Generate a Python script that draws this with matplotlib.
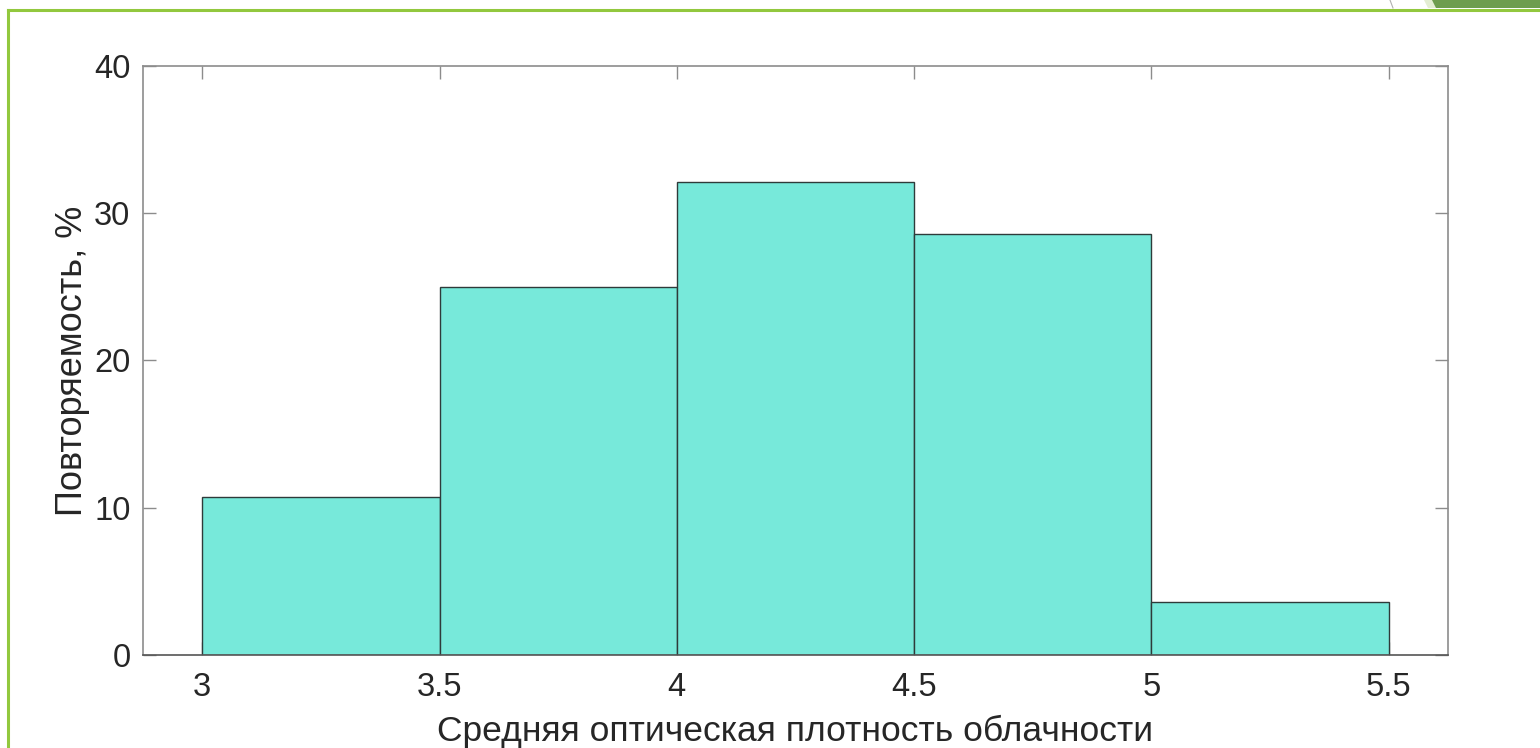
import matplotlib
matplotlib.use("Agg")
import matplotlib.pyplot as plt
from matplotlib.patches import Polygon
from matplotlib.lines import Line2D

# histogram bins of mean cloud optical thickness, share of cases in %
bin_edges = [3.0, 3.5, 4.0, 4.5, 5.0, 5.5]
counts = [3, 7, 9, 8, 1]
total = sum(counts)
percent = [100.0 * c / total for c in counts]

x_ticks = [3, 3.5, 4, 4.5, 5, 5.5]
x_tick_labels = ["3", "3.5", "4", "4.5", "5", "5.5"]
y_ticks = [0, 10, 20, 30, 40]

x_label = "Средняя оптическая плотность облачности"
y_label = "Повторяемость, %"

plt.rcParams["font.family"] = ["Liberation Sans", "DejaVu Sans"]

fig = plt.figure(figsize=(15.4, 7.48), dpi=100)
fig.patch.set_facecolor("white")

# slide frame
green = "#92c83e"
fig.add_artist(Line2D([8 / 1540, 1.0], [1 - 9.5 / 748, 1 - 9.5 / 748],
                      transform=fig.transFigure, color=green, lw=2.2))
fig.add_artist(Line2D([8 / 1540, 8 / 1540], [0.0, 1 - 9.5 / 748],
                      transform=fig.transFigure, color=green, lw=2.2))
fig.add_artist(Polygon([(1424 / 1540, 1.0), (1436 / 1540, 1.0), (1440 / 1540, 1 - 8 / 748),
                        (1428 / 1540, 1 - 8 / 748)],
                       closed=True, transform=fig.transFigure, facecolor="#e4eed3",
                       edgecolor="none"))
fig.add_artist(Polygon([(1432 / 1540, 1.0), (1.0, 1.0), (1.0, 1 - 8 / 748),
                        (1436 / 1540, 1 - 8 / 748)],
                       closed=True, transform=fig.transFigure, facecolor="#6e9d4e",
                       edgecolor="none"))
fig.add_artist(Line2D([1390 / 1540, 1393 / 1540], [1.0, 1 - 8 / 748],
                      transform=fig.transFigure, color="#b0b0b0", lw=0.8))

ax = fig.add_axes([143 / 1540, 93 / 748, 1305 / 1540, 589 / 748])

widths = [b - a for a, b in zip(bin_edges[:-1], bin_edges[1:])]
ax.bar(bin_edges[:-1], percent, width=widths, align="edge",
       color="#77e9da", edgecolor="#2e3b3a", linewidth=1.0, zorder=2)

ax.set_xlim(2.875, 5.625)
ax.set_ylim(0, 40)
ax.set_xticks(x_ticks)
ax.set_xticklabels(x_tick_labels)
ax.set_yticks(y_ticks)

text_color = "#262626"
ax.tick_params(direction="in", length=9.5, width=1.0, color="#8c8c8c",
               labelsize=23.5, labelcolor=text_color, top=True, right=True)
ax.tick_params(axis="x", pad=12)
ax.tick_params(axis="y", pad=9)
for side in ax.spines.values():
    side.set_color("#8c8c8c")
    side.set_linewidth(1.2)
ax.spines["bottom"].set_color("#555555")

ax.set_xlabel(x_label, fontsize=25.5, color=text_color, labelpad=9)
ax.set_ylabel(y_label, fontsize=26, color=text_color, labelpad=3)

fig.savefig("out.png", dpi=100)
